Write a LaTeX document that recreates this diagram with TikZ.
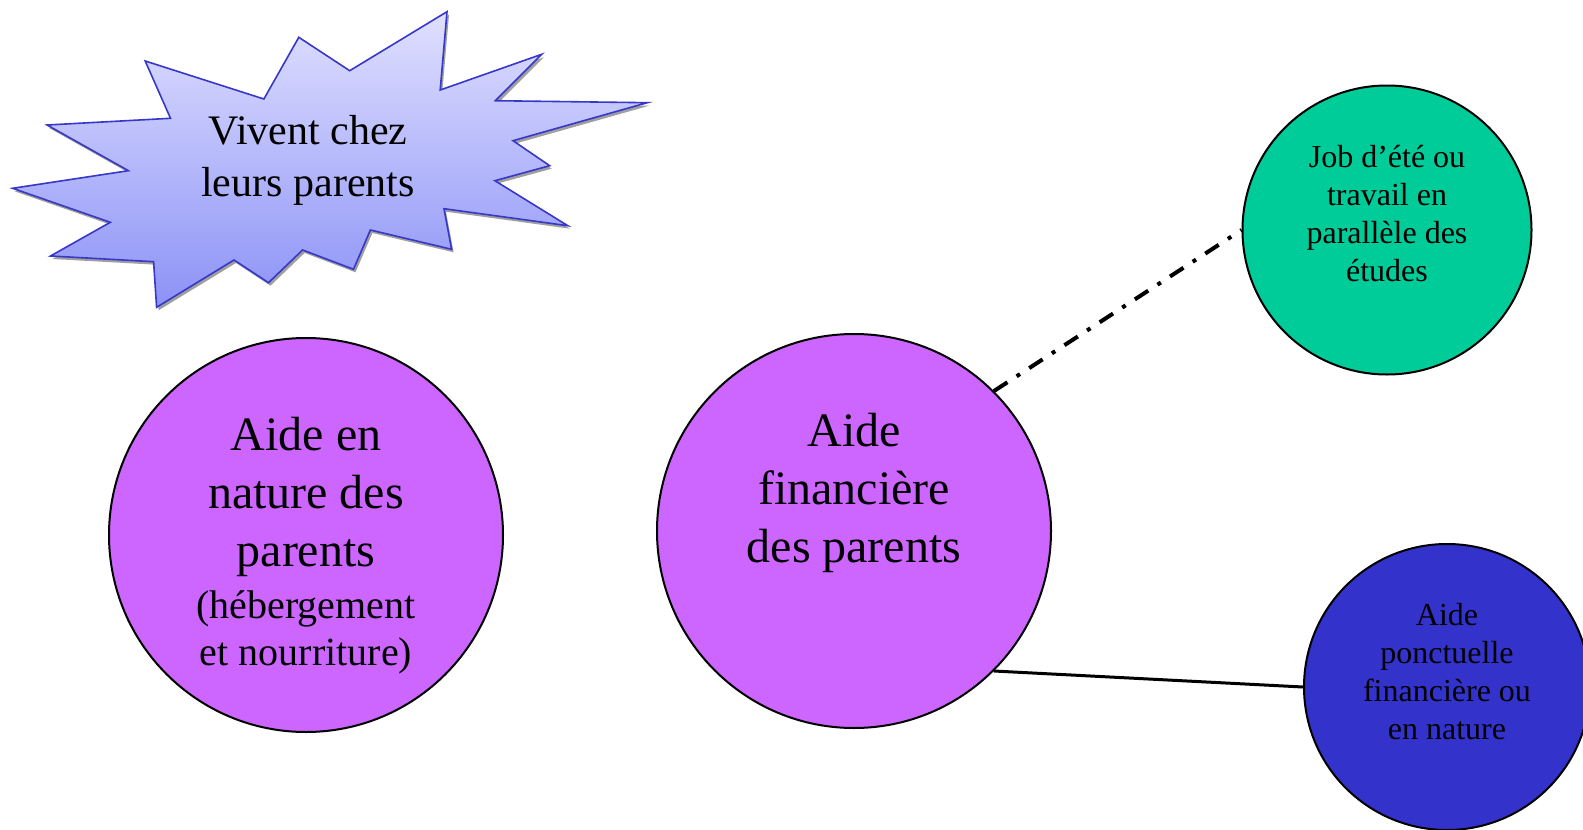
\documentclass[tikz,border=0pt]{standalone}
\usepackage{fontspec}
\setmainfont{Liberation Serif}
\definecolor{violetfill}{RGB}{204,102,255}
\definecolor{jobgreen}{RGB}{0,204,153}
\definecolor{ponctblue}{RGB}{51,51,204}
\definecolor{burstline}{RGB}{55,55,200}
\definecolor{bursttop}{RGB}{224,224,255}
\definecolor{burstbot}{RGB}{140,146,246}
\newcommand{\smallpart}{\fontsize{40}{47}\selectfont}
\begin{document}
\begin{tikzpicture}[x=1pt,y=-1pt,
  bubble/.style={circle,draw=black,line width=2pt,inner sep=0pt},
  bigtxt/.style={align=center,font=\fontsize{48}{58}\selectfont},
  smalltxt/.style={align=center,font=\fontsize{32}{38}\selectfont}]
\useasboundingbox (0,0) rectangle (1583,830);
\clip (0,0) rectangle (1583,830);
% starburst
\draw[preaction={fill=gray!75,transform canvas={shift={(2pt,-3pt)}}},
  top color=bursttop,bottom color=burstbot,draw=burstline,line width=1.6pt]
  (145.2,61) -- (263.9,99) -- (298.8,37.3) -- (349.7,70.7) -- (447,11.7)
  -- (440.2,90) -- (541.7,54.3) -- (495.4,100.7) -- (647.3,102.7)
  -- (513,140.7) -- (549.7,165.7) -- (494.9,180.7) -- (567.8,225.7)
  -- (444,208.7) -- (451.6,249.3) -- (370.4,230) -- (353.5,269.3)
  -- (302.6,250) -- (268.5,282.7) -- (234,260) -- (156.6,307.3)
  -- (153.6,261.7) -- (50.5,256) -- (110.3,222.3) -- (12.6,188.3)
  -- (128.4,170.7) -- (47.1,125) -- (170.5,118.3) -- cycle;
\node[align=center,font=\fontsize{42}{52}\selectfont] (vivent) at (308,160)
  {Vivent chez\\leurs parents};
% circles
\node[bubble,fill=violetfill,minimum size=394pt] (nature) at (306,535) {};
\node[bubble,fill=violetfill,minimum size=394pt] (financ) at (854,531) {};
\node[bubble,fill=jobgreen,minimum size=289pt] (job) at (1387,230) {};
\node[bubble,fill=ponctblue,minimum size=286pt] (ponct) at (1447,687) {};
\node[bigtxt] (naturetxt) at ([yshift=-11pt]nature.center)
  {Aide en\\nature des\\parents\\[-6pt]
   {\smallpart (hébergement}\\[-11pt]{\smallpart et nourriture)}};
\node[bigtxt] (financtxt) at ([yshift=38pt]financ.center)
  {Aide\\financière\\des parents};
\node[smalltxt] (jobtxt) at ([yshift=16pt]job.center)
  {Job d’été ou\\travail en\\parallèle des\\études};
\node[smalltxt] (poncttxt) at ([yshift=15pt]ponct.center)
  {Aide\\ponctuelle\\financière ou\\en nature};
% links
\draw[line width=4pt,dash pattern=on 16pt off 11pt on 4pt off 11pt]
  (financ.45) -- (job.west);
\draw[line width=3pt] (financ.-45) -- (ponct.west);
\end{tikzpicture}
\end{document}
